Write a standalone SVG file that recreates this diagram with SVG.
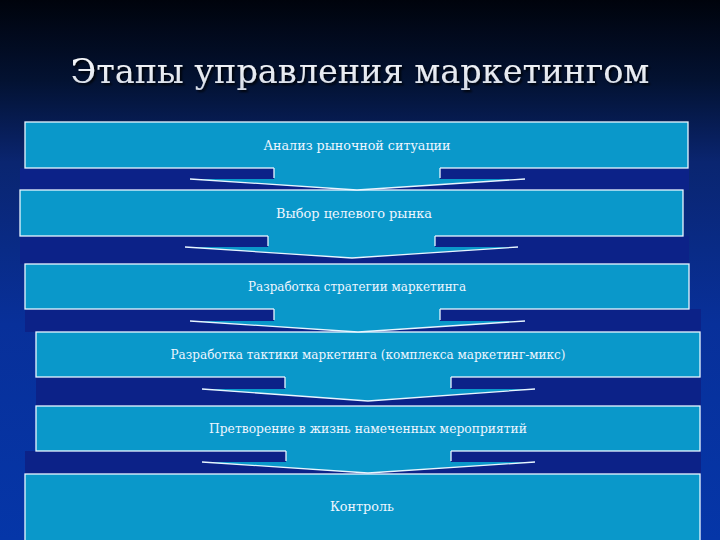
<svg xmlns="http://www.w3.org/2000/svg" width="720" height="540" viewBox="0 0 720 540">
<defs>
<linearGradient id="bg" x1="0" y1="0" x2="0" y2="1">
<stop offset="0" stop-color="#00030c"/>
<stop offset="0.15" stop-color="#031232"/>
<stop offset="0.3" stop-color="#0a2570"/>
<stop offset="0.6" stop-color="#08309a"/>
<stop offset="1" stop-color="#0536a8"/>
</linearGradient>
<linearGradient id="tg" x1="0" y1="0" x2="0" y2="1">
<stop offset="0" stop-color="#ffffff"/>
<stop offset="1" stop-color="#d4dae6"/>
</linearGradient>
<filter id="sh" x="-10%" y="-50%" width="120%" height="200%">
<feDropShadow dx="2" dy="2" stdDeviation="0.8" flood-color="#000000" flood-opacity="0.8"/>
</filter>
</defs>
<style>
.box{fill:#0a98ca;stroke:#e8f6ff;stroke-width:1.3}
.gap{fill:#0c2288}
.af{fill:#0a98ca}
.al{fill:none;stroke:#e8f6ff;stroke-width:1.3}
.t{font-family:"DejaVu Serif","Liberation Serif",serif;font-size:12px;fill:#eef6ff;text-anchor:middle}
.title{font-family:"DejaVu Serif",serif;font-size:33.5px;text-anchor:middle}
</style>
<rect width="720" height="540" fill="url(#bg)"/>
<text class="title" x="360" y="83" fill="url(#tg)" filter="url(#sh)">Этапы управления маркетингом</text>
<g id="gaps">
<rect class="gap" x="20" y="168" width="669" height="22"/>
<rect class="gap" x="20" y="236" width="669" height="28"/>
<rect class="gap" x="25" y="309" width="676" height="23"/>
<rect class="gap" x="36" y="377" width="665" height="29"/>
<rect class="gap" x="25" y="451" width="676" height="23"/>
</g>
<g id="node1"><rect class="box" x="25" y="122" width="663" height="46"/><text class="t" x="357" y="150" textLength="187" lengthAdjust="spacingAndGlyphs">Анализ рыночной ситуации</text></g>
<g id="node2"><rect class="box" x="20" y="190" width="663" height="46"/><text class="t" x="354" y="218" textLength="156" lengthAdjust="spacingAndGlyphs">Выбор целевого рынка</text></g>
<g id="node3"><rect class="box" x="25" y="264" width="664" height="45"/><text class="t" x="357" y="291" textLength="218" lengthAdjust="spacingAndGlyphs">Разработка стратегии маркетинга</text></g>
<g id="node4"><rect class="box" x="36" y="332" width="664" height="45"/><text class="t" x="368" y="359" textLength="395" lengthAdjust="spacingAndGlyphs">Разработка тактики маркетинга (комплекса маркетинг-микс)</text></g>
<g id="node5"><rect class="box" x="36" y="406" width="664" height="45"/><text class="t" x="368" y="433" textLength="318" lengthAdjust="spacingAndGlyphs">Претворение в жизнь намеченных мероприятий</text></g>
<g id="node6"><rect class="box" x="25" y="474" width="675" height="80"/><text class="t" x="362" y="511" textLength="64" lengthAdjust="spacingAndGlyphs">Контроль</text></g>
<g id="connectors">
<polygon class="af" points="274,167 274,179 190,179 357,190 525,179 440,179 440,167"/>
<polyline class="al" points="274,168 274,178"/><polyline class="al" points="440,168 440,178"/><polyline class="al" points="190,179 357,190 525,179"/>
<polygon class="af" points="268,235 268,247 185,247 352,258 518,247 435,247 435,235"/>
<polyline class="al" points="268,236 268,246"/><polyline class="al" points="435,236 435,246"/><polyline class="al" points="185,247 352,258 518,247"/>
<polygon class="af" points="274,308 274,321 190,321 358,332 525,321 440,321 440,308"/>
<polyline class="al" points="274,309 274,320"/><polyline class="al" points="440,309 440,320"/><polyline class="al" points="190,321 358,332 525,321"/>
<polygon class="af" points="285,376 285,389 202,389 368,401 535,389 451,389 451,376"/>
<polyline class="al" points="285,377 285,388"/><polyline class="al" points="451,377 451,388"/><polyline class="al" points="202,389 368,401 535,389"/>
<polygon class="af" points="286,450 286,462 202,462 368,473 535,462 451,462 451,450"/>
<polyline class="al" points="286,451 286,461"/><polyline class="al" points="451,451 451,461"/><polyline class="al" points="202,462 368,473 535,462"/>
</g>
</svg>
